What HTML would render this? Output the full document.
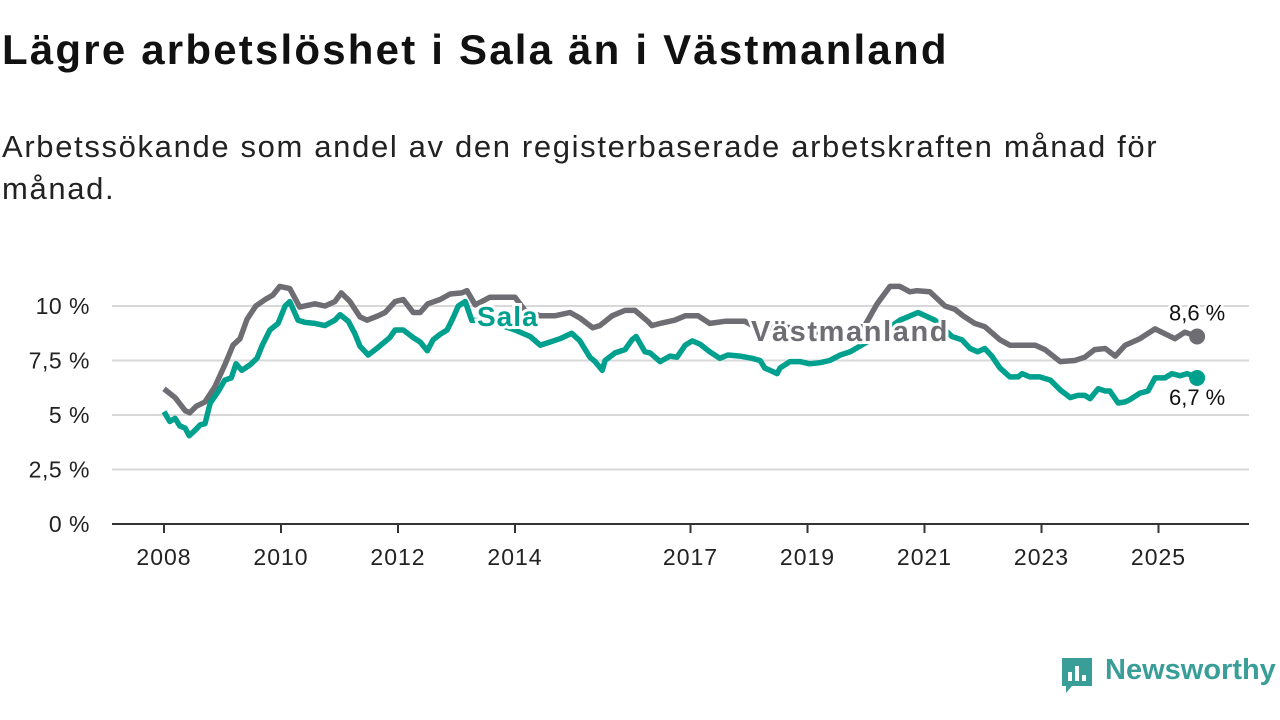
<!DOCTYPE html>
<html><head><meta charset="utf-8"><style>
body{margin:0;width:1280px;height:720px;background:#fff;font-family:"Liberation Sans",sans-serif;overflow:hidden;position:relative}
h1{position:absolute;left:2px;top:26px;margin:0;font-size:42px;letter-spacing:2.2px;font-weight:bold;color:#111}
p.sub{position:absolute;left:2px;top:126px;margin:0;font-size:31px;letter-spacing:1.65px;line-height:42px;color:#222;width:1200px}
svg{position:absolute;left:0;top:0}
</style></head><body>
<h1>Lägre arbetslöshet i Sala än i Västmanland</h1>
<p class="sub">Arbetssökande som andel av den registerbaserade arbetskraften månad för månad.</p>
<svg id="chart" width="1280" height="720"></svg>
<div style="position:absolute;left:1060px;top:656px;width:220px;height:40px">
<svg width="34" height="38" style="position:absolute;left:0;top:0"><path d="M2 2h30v28H12l-6 7v-7H2z" fill="#3a9e98"/><rect x="8" y="16" width="4" height="9" fill="#fff"/><rect x="15" y="10" width="4" height="15" fill="#fff"/><rect x="22" y="19" width="4" height="6" fill="#fff"/></svg>
<span style="position:absolute;left:45px;top:-2px;font-size:29px;font-weight:bold;color:#3a9e98">Newsworthy</span></div>
<script>
const vmDates=[2008,2008.19,2008.36,2008.44,2008.55,2008.70,2008.87,2009.04,2009.18,2009.30,2009.42,2009.57,2009.73,2009.86,2009.98,2010.15,2010.32,2010.58,2010.75,2010.92,2011.03,2011.18,2011.35,2011.47,2011.66,2011.78,2011.95,2012.09,2012.26,2012.38,2012.51,2012.72,2012.89,2013.09,2013.18,2013.32,2013.57,2013.83,2014.0,2014.17,2014.43,2014.68,2014.94,2015.11,2015.33,2015.45,2015.66,2015.88,2016.05,2016.27,2016.34,2016.48,2016.73,2016.91,2017.13,2017.33,2017.59,2017.76,2017.93,2018.19,2018.53,2018.87,2019.21,2019.64,2019.98,2020.19,2020.41,2020.58,2020.75,2020.87,2021.09,2021.35,2021.52,2021.66,2021.86,2022.03,2022.29,2022.46,2022.89,2023.06,2023.32,2023.57,2023.74,2023.91,2024.09,2024.26,2024.43,2024.68,2024.94,2025.28,2025.45,2025.66];
const vmValues=[6.2,5.8,5.2,5.1,5.4,5.6,6.3,7.3,8.2,8.5,9.4,10,10.3,10.5,10.9,10.8,9.95,10.1,10,10.2,10.6,10.2,9.5,9.35,9.55,9.7,10.2,10.3,9.7,9.7,10.1,10.3,10.55,10.6,10.7,10.05,10.4,10.4,10.4,9.8,9.55,9.55,9.7,9.45,9,9.1,9.55,9.8,9.8,9.3,9.1,9.2,9.35,9.55,9.55,9.2,9.3,9.3,9.3,8.9,9.1,8.9,8.7,8.7,9.1,10.1,10.9,10.9,10.65,10.7,10.65,10,9.85,9.55,9.2,9.05,8.45,8.2,8.2,8,7.45,7.5,7.65,8,8.05,7.7,8.2,8.5,8.95,8.5,8.8,8.6];
const saDates=[2008,2008.10,2008.19,2008.27,2008.36,2008.43,2008.53,2008.62,2008.70,2008.79,2008.92,2009.04,2009.15,2009.23,2009.33,2009.47,2009.59,2009.68,2009.81,2009.95,2010.07,2010.15,2010.29,2010.41,2010.58,2010.75,2010.92,2011.01,2011.15,2011.26,2011.35,2011.49,2011.66,2011.86,2011.95,2012.09,2012.26,2012.38,2012.50,2012.60,2012.72,2012.84,2012.94,2013.03,2013.15,2013.26,2013.57,2014.0,2014.26,2014.43,2014.60,2014.77,2014.97,2015.11,2015.28,2015.37,2015.49,2015.54,2015.71,2015.88,2016.0,2016.07,2016.22,2016.31,2016.48,2016.65,2016.77,2016.91,2017.03,2017.16,2017.33,2017.50,2017.64,2017.85,2018.05,2018.19,2018.27,2018.36,2018.48,2018.53,2018.70,2018.87,2019.04,2019.21,2019.38,2019.56,2019.73,2019.86,2020.24,2020.58,2020.89,2021.18,2021.47,2021.64,2021.78,2021.91,2022.03,2022.15,2022.29,2022.46,2022.60,2022.67,2022.80,2022.97,2023.15,2023.32,2023.49,2023.62,2023.74,2023.83,2023.97,2024.09,2024.17,2024.31,2024.43,2024.51,2024.68,2024.82,2024.94,2025.11,2025.23,2025.37,2025.49,2025.66];
const saValues=[5.15,4.7,4.85,4.5,4.4,4.05,4.3,4.55,4.6,5.55,6.05,6.6,6.7,7.35,7.05,7.3,7.6,8.2,8.9,9.2,10,10.2,9.35,9.25,9.2,9.1,9.35,9.6,9.3,8.75,8.15,7.75,8.1,8.55,8.9,8.9,8.55,8.35,7.95,8.45,8.7,8.9,9.45,10,10.2,9.35,9.3,8.9,8.6,8.2,8.35,8.5,8.75,8.4,7.65,7.45,7.05,7.5,7.85,8,8.45,8.6,7.9,7.85,7.45,7.7,7.65,8.2,8.4,8.25,7.9,7.6,7.75,7.7,7.6,7.5,7.15,7.05,6.9,7.15,7.45,7.45,7.35,7.4,7.5,7.75,7.9,8.1,8.7,9.35,9.7,9.35,8.6,8.45,8.05,7.9,8.05,7.7,7.15,6.75,6.75,6.9,6.75,6.75,6.6,6.15,5.8,5.9,5.9,5.75,6.2,6.1,6.1,5.55,5.6,5.7,6,6.1,6.7,6.7,6.9,6.8,6.9,6.7];
const yTicks=[0,2.5,5,7.5,10];
const yTickLabels=["0 %","2,5 %","5 %","7,5 %","10 %"];
const xTicks=[2008,2010,2012,2014,2017,2019,2021,2023,2025];
const NS="http://www.w3.org/2000/svg";
const svg=document.getElementById('chart');
const X=d=>164+(d-2008)*58.5;
const Y=v=>524-v*21.8;
function mk(t,a,txt){const e=document.createElementNS(NS,t);for(const k in a)e.setAttribute(k,a[k]);if(txt!==undefined)e.textContent=txt;svg.appendChild(e);return e;}
yTicks.forEach((v,i)=>{
  if(v>0){const g=mk('line',{x1:112,x2:1249,y1:Y(v),y2:Y(v),stroke:'#d8d8d8','stroke-width':2});
  
  }
  const t=mk('text',{x:90,y:Y(v)+8,'text-anchor':'end','font-size':23,'letter-spacing':0.5,fill:'#222'},yTickLabels[i]);
  
  
});
const ax=mk('line',{x1:112,x2:1249,y1:524,y2:524,stroke:'#333','stroke-width':2});


xTicks.forEach(d=>{
  const tk=mk('line',{x1:X(d),x2:X(d),y1:524,y2:533,stroke:'#333','stroke-width':2});
  
  
  const t=mk('text',{x:X(d),y:565,'text-anchor':'middle','font-size':23,'letter-spacing':1,fill:'#222'},String(d));
  
  
});
function path(ds,vs){return ds.map((d,i)=>(i?'L':'M')+X(d).toFixed(1)+' '+Y(vs[i]).toFixed(1)).join(' ');}
const l1=mk('path',{d:path(vmDates,vmValues),fill:'none',stroke:'#6e6d73','stroke-width':5.5,'stroke-linejoin':'round'});


const l2=mk('path',{d:path(saDates,saValues),fill:'none',stroke:'#00a08f','stroke-width':5.5,'stroke-linejoin':'round'});


const ld=vmDates.length-1, ls=saDates.length-1;
const c1=mk('circle',{cx:X(vmDates[ld]),cy:Y(vmValues[ld]),r:8,fill:'#6e6d73'});


const c2=mk('circle',{cx:X(saDates[ls]),cy:Y(saValues[ls]),r:8,fill:'#00a08f'});


const e1=mk('text',{x:X(vmDates[ld]),y:Y(vmValues[ld])-16,'text-anchor':'middle','font-size':22,fill:'#111',stroke:'#fff','stroke-width':5,'paint-order':'stroke'},vmValues[ld].toFixed(1).replace('.',',')+' %');


const e2=mk('text',{x:X(saDates[ls]),y:Y(saValues[ls])+27,'text-anchor':'middle','font-size':22,fill:'#111',stroke:'#fff','stroke-width':5,'paint-order':'stroke'},saValues[ls].toFixed(1).replace('.',',')+' %');


const s1=mk('text',{x:477,y:326,'font-size':28,'letter-spacing':1,'font-weight':'bold',fill:'#00a08f',stroke:'#fff','stroke-width':6,'paint-order':'stroke'},'Sala');


const s2=mk('text',{x:751,y:341,'font-size':29,'letter-spacing':1.6,'font-weight':'bold',fill:'#6e6d73',stroke:'#fff','stroke-width':6,'paint-order':'stroke'},'Västmanland');


</script>
</body></html>
